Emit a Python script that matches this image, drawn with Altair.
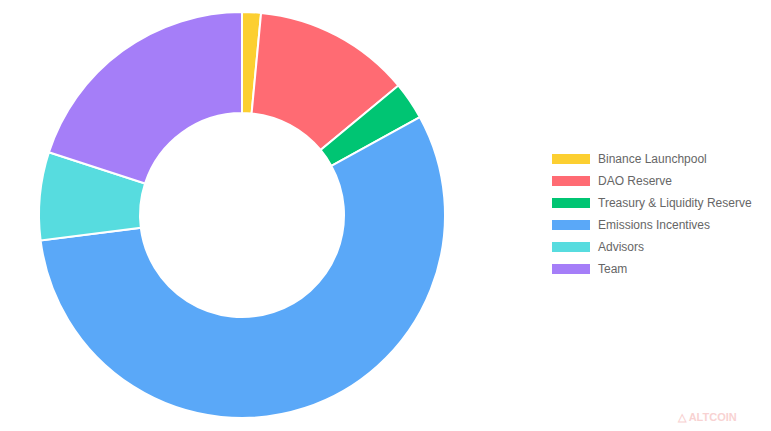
import altair as alt
import pandas as pd

# token allocation (percent of supply)
categories = [
    "Binance Launchpool",
    "DAO Reserve",
    "Treasury & Liquidity Reserve",
    "Emissions Incentives",
    "Advisors",
    "Team",
]
shares = [1.5, 12.5, 3.0, 56.0, 7.0, 20.0]
colors = ["#FCCF31", "#FF6B73", "#00C573", "#5AA8F8", "#57DCDF", "#A57EF8"]

data = pd.DataFrame({
    "Category": categories,
    "Share": shares,
    "Order": list(range(len(categories))),
})

donut = (
    alt.Chart(data)
    .mark_arc(
        innerRadius=102,
        outerRadius=203,
        stroke="white",
        strokeWidth=2,
    )
    .encode(
        theta=alt.Theta("Share:Q", stack=True),
        order=alt.Order("Order:Q"),
        color=alt.Color(
            "Category:N",
            sort=categories,
            scale=alt.Scale(domain=categories, range=colors),
            legend=alt.Legend(
                title=None,
                orient="none",
                legendX=553,
                legendY=139,
                symbolType="M-1.9,-0.5L1.9,-0.5L1.9,0.5L-1.9,0.5Z",
                symbolSize=400,
                symbolStrokeWidth=0,
                symbolOpacity=1,
                labelFontSize=12,
                labelColor="#666666",
                labelFont="Arial",
                labelOffset=17,
                rowPadding=6,
            ),
        ),
        tooltip=[
            alt.Tooltip("Category:N", title="Category"),
            alt.Tooltip("Share:Q", title="Share (%)"),
        ],
    )
)

# faint watermark in the corner
mark_df = pd.DataFrame({"label": ["\u25b3 ALTCOIN"]})
watermark = (
    alt.Chart(mark_df)
    .mark_text(
        font="Arial",
        fontSize=11,
        fontWeight="bold",
        color="#F8D2D2",
        align="left",
        baseline="middle",
    )
    .encode(
        x=alt.value(670),
        y=alt.value(408),
        text="label:N",
    )
)

chart = (
    alt.layer(donut, watermark)
    .properties(width=468, height=410, padding=0)
    .configure_view(stroke=None)
)

chart.save("out.html", embed_options={"renderer": "svg", "actions": False})
